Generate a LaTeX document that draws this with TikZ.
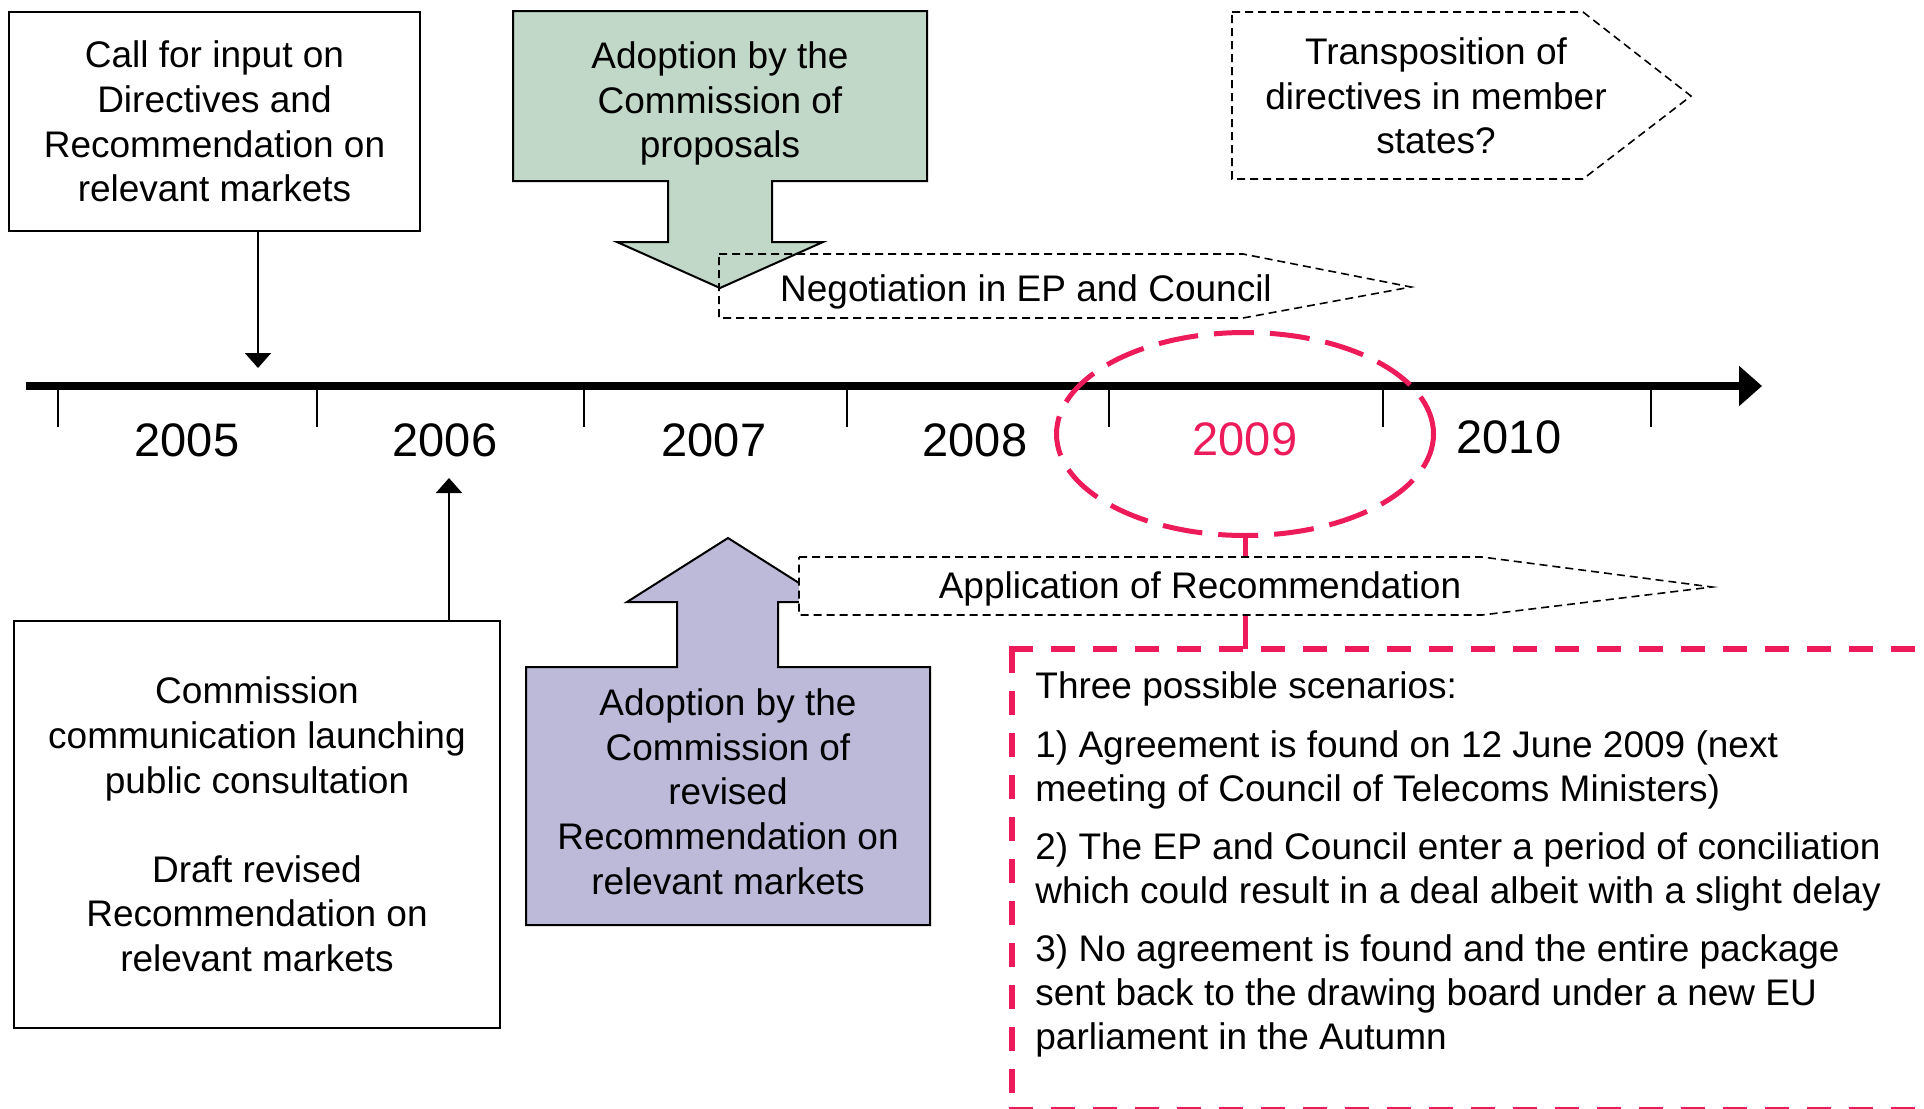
\documentclass[tikz,border=0pt]{standalone}
\usepackage{fontspec}
\setmainfont{Liberation Sans}
\usetikzlibrary{arrows.meta,shapes.geometric}
\definecolor{eured}{RGB}{237,27,89}
\definecolor{sage}{RGB}{193,215,199}
\definecolor{lav}{RGB}{188,185,217}
\begin{document}
\begin{tikzpicture}[x=0.5pt,y=-0.5pt,
  txt/.style={font=\fontsize{18.5}{22.3}\selectfont, inner sep=0pt, align=center},
  yr/.style={font=\fontsize{23.5}{28}\selectfont, inner sep=0pt, anchor=base},
  thinbox/.style={draw=black, line width=1pt},
  dashbox/.style={draw=black, line width=0.8pt, dash pattern=on 4pt off 2.5pt},
  tickmark/.style={line width=1pt},
  conn/.style={line width=1pt, -{Triangle[length=7.5pt,width=13pt]}},
  reddash/.style={draw=eured, line width=2.8pt, dash pattern=on 12pt off 9pt},
  bigarrow/.style={draw=black, line width=1pt},
]
\useasboundingbox (0,0) rectangle (1924,1109);
\clip (0,0) rectangle (1924,1109);
\fill[white] (0,0) rectangle (1924,1109);

% time axis
\coordinate (axL) at (26,386);
\coordinate (axR) at (1762,386);
\draw[line width=4pt, -{Triangle[length=11.5pt,width=19.5pt]}] (axL) -- (axR);
\foreach \x in {58,317,584,847,1109,1383,1651}
  \draw[tickmark] (\x,388) -- (\x,427);

% years
\node[yr] (y2005) at (187,456) {2005};
\node[yr] (y2006) at (445,456) {2006};
\node[yr] (y2007) at (714,456) {2007};
\node[yr] (y2008) at (975,456) {2008};
\node[yr, text=eured] (y2009) at (1245,455) {2009};
\node[yr] (y2010) at (1509,453) {2010};

% call for input
\node[thinbox, txt, minimum width=205.5pt, minimum height=109.5pt] (call) at (214.5,121.5)
  {Call for input on\\Directives and\\Recommendation on\\relevant markets};
\coordinate (a2005) at (258,368);
\draw[conn] (call.south -| a2005) -- (a2005);

% commission communication
\node[thinbox, txt, minimum width=243pt, minimum height=203.5pt] (comm) at (257,824.5)
  {Commission\\communication launching\\public consultation\\[22.3pt]Draft revised\\Recommendation on\\relevant markets};
\coordinate (a2006) at (449,478);
\draw[conn] (comm.north -| a2006) -- (a2006);

% green block arrow
\draw[bigarrow, fill=sage] (513,11) -- (927,11) -- (927,181) -- (772,181) -- (772,242)
  -- (823,242) -- (720,288) -- (617,242) -- (668,242) -- (668,181) -- (513,181) -- cycle;
\node[txt, anchor=north] (adopt1) at (720,41.5) {Adoption by the\\Commission of\\proposals};

% negotiation
\draw[dashbox] (719,254) -- (1243,254) -- (1411,287) -- (1243,318) -- (719,318) -- cycle;
\node[txt, anchor=base] (nego) at (1026,301) {Negotiation in EP and Council};

% transposition
\draw[dashbox] (1232,12) -- (1583,12) -- (1691,96) -- (1583,179) -- (1232,179) -- cycle;
\node[txt, anchor=north] (trans) at (1436,37.5) {Transposition of\\directives in member\\states?};

% purple block arrow
\draw[bigarrow, fill=lav] (526,667) -- (677,667) -- (677,602) -- (627,602) -- (728,538)
  -- (829,602) -- (778,602) -- (778,667) -- (930,667) -- (930,925) -- (526,925) -- cycle;
\node[txt, anchor=north] (adopt2) at (728,688.5)
  {Adoption by the\\Commission of\\revised\\Recommendation on\\relevant markets};

% 2009 ellipse and connector
\node[draw=eured, ellipse, line width=2.5pt, dash pattern=on 20pt off 8pt,
      minimum width=188.5pt, minimum height=101.5pt, inner sep=0pt] (ell) at (1245,434) {};
\coordinate (rbtl) at (1012,649);
\draw[eured, line width=2.5pt] (ell.south) -- (ell.south |- rbtl);

% application of recommendation
\draw[dashbox, fill=white] (799,557) -- (1482,557) -- (1712,587) -- (1482,615) -- (799,615) -- cycle;
\node[txt, anchor=base] (appl) at (1200,598) {Application of Recommendation};

% scenarios box
\draw[reddash] (1009.2,649) -- (1940,649);
\draw[reddash] (rbtl) -- (1012,1110);
\draw[reddash] (1009.2,1110) -- (1940,1110);
\node[txt, align=left, anchor=north west, font=\fontsize{18.5}{22}\selectfont] (scen) at (1035,671.5)
  {Three possible scenarios:\\[7.2pt]
   1) Agreement is found on 12 June 2009 (next\\
   meeting of Council of Telecoms Ministers)\\[7.2pt]
   2) The EP and Council enter a period of conciliation\\
   which could result in a deal albeit with a slight delay\\[7.2pt]
   3) No agreement is found and the entire package\\
   sent back to the drawing board under a new EU\\
   parliament in the Autumn};
\end{tikzpicture}
\end{document}
